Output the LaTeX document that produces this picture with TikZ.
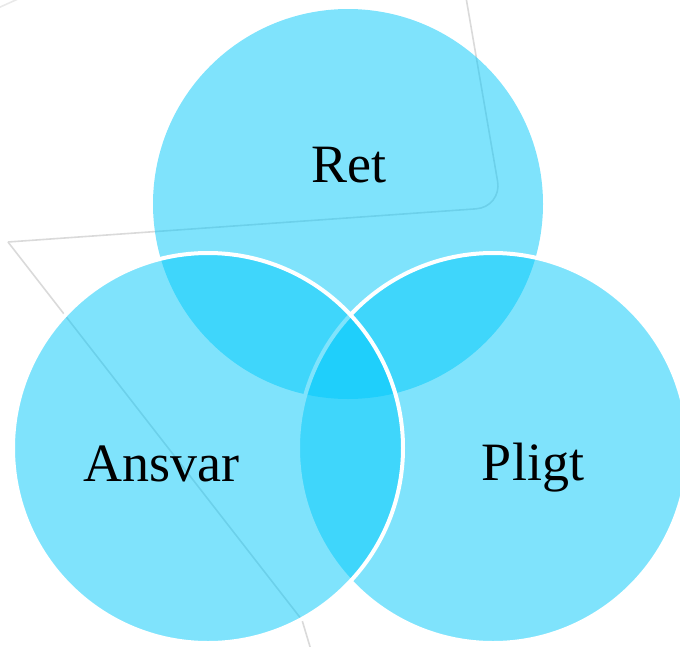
\documentclass[tikz,border=0pt]{standalone}
\usepackage{fontspec}
\setmainfont{Liberation Serif}
\definecolor{venn}{RGB}{0,200,250}
\definecolor{bgline}{RGB}{218,218,218}
\begin{document}
\begin{tikzpicture}[x=1pt,y=-1pt,
  bgstroke/.style={draw=bgline, line width=1.6pt, line join=miter},
  vennset/.style={circle, minimum size=390pt, inner sep=0pt, fill=venn, fill opacity=0.5},
  vennrim/.style={vennset, draw=white, line width=4pt},
  lbl/.style={font=\fontsize{54}{60}\selectfont, anchor=base, text=black}]
\useasboundingbox (0,0) rectangle (680,646);
\clip (0,0) rectangle (680,646);
% faint background outline
\coordinate (c1) at (463,-20);
\coordinate (c2) at (502,207);
\coordinate (c3) at (8,242);
\coordinate (c4) at (302,620);
\coordinate (c5) at (314,660);
\draw[bgstroke, rounded corners=26pt] (c1) -- (c2) -- (c3);
\draw[bgstroke] (c3) -- (c4) -- (c5);
\draw[bgstroke, draw=bgline!60] (-2,8) -- (18,-1);
% circles
\node[vennset] (ret) at (348,204) {};
\node[vennrim] (pligt) at (493,448) {};
\node[vennrim] (ansvar) at (208,448) {};
% labels
\node[lbl] (tret) at (349,182) {Ret};
\node[lbl] (tansvar) at (161.5,481) {Ansvar};
\node[lbl] (tpligt) at (533,480) {Pligt};
\end{tikzpicture}
\end{document}
